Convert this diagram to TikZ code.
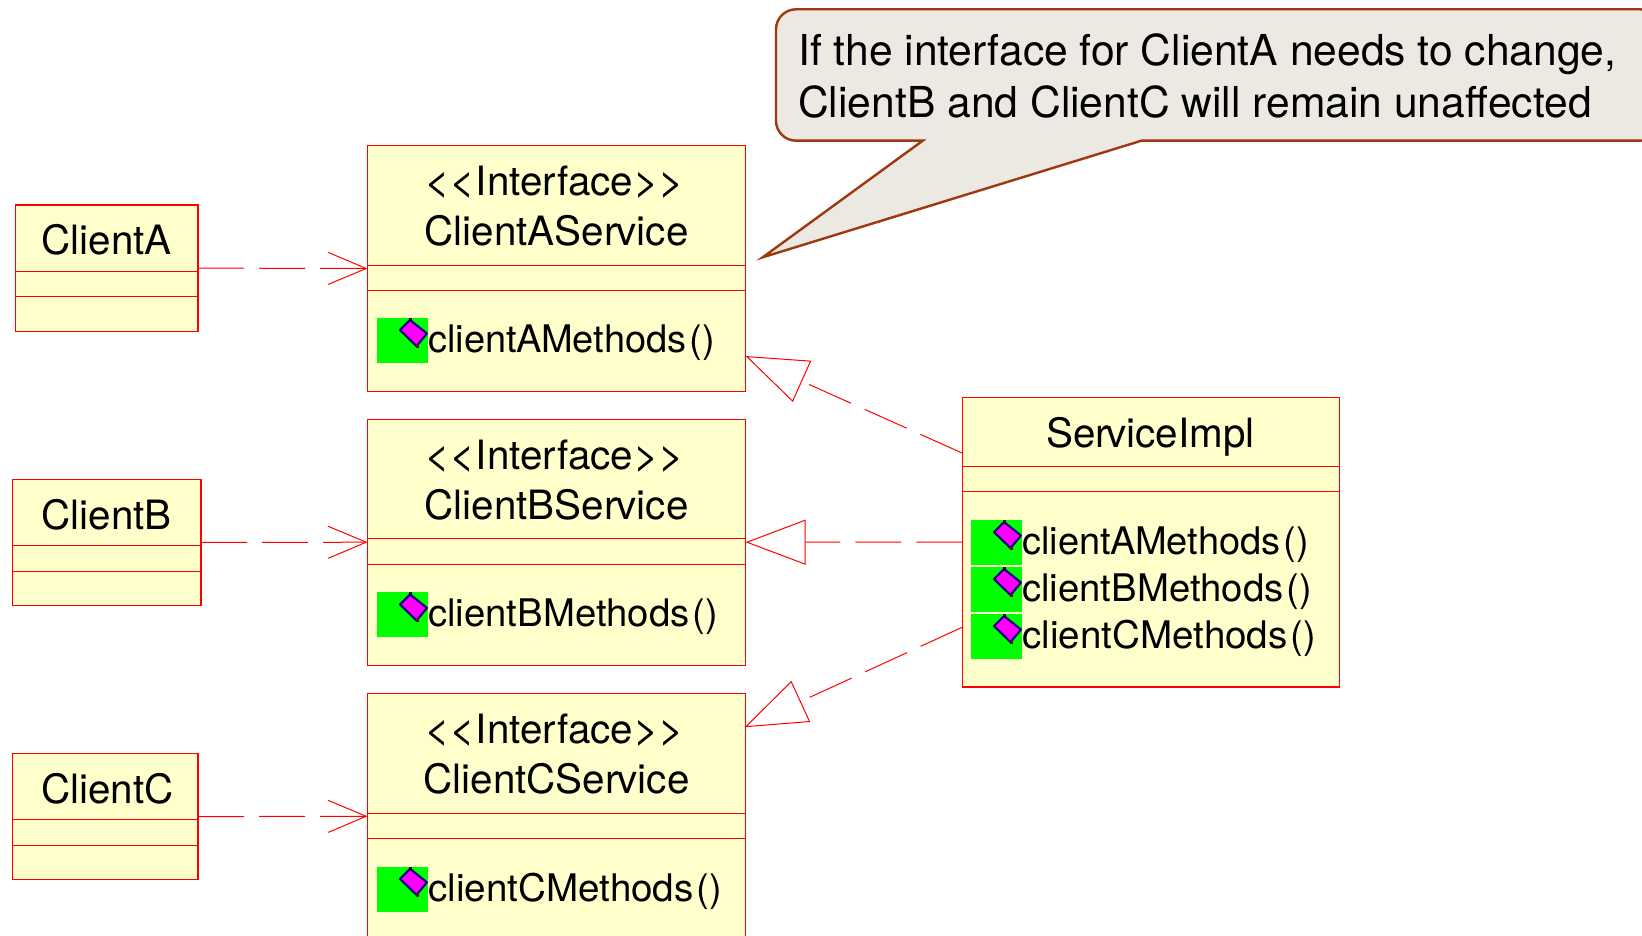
\documentclass[tikz,border=0pt]{standalone}
\usepackage{fontspec}
\setmainfont{TeX Gyre Heros}
\usepackage{tikz}
\usetikzlibrary{arrows.meta,positioning}
\definecolor{classfill}{HTML}{FFFFCC}
\definecolor{notefill}{HTML}{ECE8E2}
\definecolor{noteline}{HTML}{A0380F}
\definecolor{iconblue}{HTML}{1A0A80}
\definecolor{iconpink}{HTML}{FF00FF}
\definecolor{iconred}{HTML}{8A0020}
\definecolor{pureGreen}{HTML}{00FF00}
\def\opn{\scalebox{1.1}[1]{<}\kern-0.5pt\scalebox{1.1}[1]{<}}
\def\cls{\scalebox{1.1}[1]{>}\kern-0.5pt\scalebox{1.1}[1]{>}\kern4pt}
\def\srv{Ser\kern-1pt vice}
\tikzset{%
  tipA/.tip={Straight Barb[length=38pt,width=32pt]},
  tipB/.tip={Triangle[open,length=60pt,width=45pt]},
  tipC/.tip={Triangle[open,length=62pt,width=45pt]},
  classbox/.style={draw=red,fill=classfill,line width=1.3pt,inner sep=0pt,outer sep=0pt},
  classname/.style={font=\fontsize{40.4}{50.3}\selectfont,align=center,inner sep=0pt},
  methodname/.style={font=\fontsize{38}{46}\selectfont,inner sep=0pt,right=0pt of #1,yshift=-2pt},
  greenbox/.style={fill=pureGreen,minimum width=51pt,minimum height=44.7pt,inner sep=0pt,outer sep=0pt},
  depline/.style={red,line width=1pt,dash pattern=on 46pt off 15pt},
  opicon/.pic={
    \draw[iconblue,fill=iconpink,line width=2.2pt,line join=round] (33,2) -- (23,12) -- (39.5,28) -- (50,15.5) -- cycle;
    \fill[black] (32,0) rectangle (35,3);
    \fill[iconred] (39,27) rectangle (42,30);
  }
}
\begin{document}
\begin{tikzpicture}[x=1pt,y=-1pt]
\clip (0,0) rectangle (1642,936);
\path[fill=white] (0,0) rectangle (1642,936);
% clients
\node[classbox,minimum width=182.3pt,minimum height=126.3pt] (clientA) at (106.85,268.1) {};
\node[classbox,minimum width=188.5pt,minimum height=126pt] (clientB) at (106.75,542.5) {};
\node[classbox,minimum width=185.5pt,minimum height=126pt] (clientC) at (105.25,816.6) {};
\draw[red,line width=1pt] ([yshift=-66.3pt]clientA.north west) -- ([yshift=-66.3pt]clientA.north east);
\draw[red,line width=1pt] ([yshift=-91.6pt]clientA.north west) -- ([yshift=-91.6pt]clientA.north east);
\draw[red,line width=1pt] ([yshift=-66.3pt]clientB.north west) -- ([yshift=-66.3pt]clientB.north east);
\draw[red,line width=1pt] ([yshift=-91.6pt]clientB.north west) -- ([yshift=-91.6pt]clientB.north east);
\draw[red,line width=1pt] ([yshift=-66.3pt]clientC.north west) -- ([yshift=-66.3pt]clientC.north east);
\draw[red,line width=1pt] ([yshift=-91.6pt]clientC.north west) -- ([yshift=-91.6pt]clientC.north east);
\node[classname] (clientAname) at (106.8,240) {ClientA};
\node[classname] (clientBname) at (106.8,514.5) {ClientB};
\node[classname] (clientCname) at (107.5,789) {ClientC};
% interfaces
\node[classbox,minimum width=378pt,minimum height=246pt] (serviceA) at (556.5,268.5) {};
\node[classbox,minimum width=378pt,minimum height=246pt] (serviceB) at (556.5,542.2) {};
\node[classbox,minimum width=378pt,minimum height=246pt] (serviceC) at (556.5,816.3) {};
\draw[red,line width=1pt] ([yshift=-119.7pt]serviceA.north west) -- ([yshift=-119.7pt]serviceA.north east);
\draw[red,line width=1pt] ([yshift=-145pt]serviceA.north west) -- ([yshift=-145pt]serviceA.north east);
\draw[red,line width=1pt] ([yshift=-119.7pt]serviceB.north west) -- ([yshift=-119.7pt]serviceB.north east);
\draw[red,line width=1pt] ([yshift=-145pt]serviceB.north west) -- ([yshift=-145pt]serviceB.north east);
\draw[red,line width=1pt] ([yshift=-119.7pt]serviceC.north west) -- ([yshift=-119.7pt]serviceC.north east);
\draw[red,line width=1pt] ([yshift=-145pt]serviceC.north west) -- ([yshift=-145pt]serviceC.north east);
\node[classname] (serviceAname) at (556.5,206) {\opn Interface\cls\\ClientA\srv};
\node[classname] (serviceBname) at (556.5,480) {\opn Interface\cls\\ClientB\srv};
\node[classname] (serviceCname) at (556.5,754) {\opn Interface\cls\\ClientC\srv};
\node[greenbox] (iconA) at (402.5,340.4) {};
\node[greenbox] (iconB) at (402.5,614.8) {};
\node[greenbox] (iconC) at (402.5,889.2) {};
\pic at (iconA.north west) {opicon};
\pic at (iconB.north west) {opicon};
\pic at (iconC.north west) {opicon};
\node[methodname=iconA] (methodA) {clientA\kern-1pt Methods\kern3pt()};
\node[methodname=iconB] (methodB) {\scalebox{1.008}[1]{clientBMethods}\kern3pt()};
\node[methodname=iconC] (methodC) {\scalebox{1.016}[1]{clientCMethods}\kern3pt()};
% implementation
\node[classbox,minimum width=377pt,minimum height=289.7pt] (serviceImpl) at (1150.9,542.15) {};
\draw[red,line width=1pt] ([yshift=-69.4pt]serviceImpl.north west) -- ([yshift=-69.4pt]serviceImpl.north east);
\draw[red,line width=1pt] ([yshift=-94.4pt]serviceImpl.north west) -- ([yshift=-94.4pt]serviceImpl.north east);
\node[classname] (implname) at (1150.4,436.6) {Ser\kern-3pt viceImpl};
\node[greenbox] (implIconA) at (996.5,542.4) {};
\node[greenbox] (implIconB) at (996.5,589.4) {};
\node[greenbox] (implIconC) at (996.5,636.4) {};
\pic at (implIconA.north west) {opicon};
\pic at (implIconB.north west) {opicon};
\pic at (implIconC.north west) {opicon};
\node[methodname=implIconA] (implMethodA) {clientA\kern-1pt Methods\kern3pt()};
\node[methodname=implIconB] (implMethodB) {\scalebox{1.008}[1]{clientBMethods}\kern3pt()};
\node[methodname=implIconC] (implMethodC) {\scalebox{1.016}[1]{clientCMethods}\kern3pt()};
% connectors
\draw[depline,-tipA] (clientA.east) -- (serviceA.west);
\draw[depline,-tipA] (clientB.east) -- (serviceB.west);
\draw[depline,-tipA] (clientC.east) -- (serviceC.west);
\coordinate (implA) at ([yshift=89pt]serviceImpl.west);
\coordinate (implC) at ([yshift=-85pt]serviceImpl.west);
\coordinate (targetA) at ([yshift=-87.5pt]serviceA.east);
\coordinate (targetC) at ([xshift=-1pt,yshift=89pt]serviceC.east);
\draw[depline,-tipC] (implA) -- (targetA);
\draw[depline,-tipB] (serviceImpl.west) -- (serviceB.east);
\draw[depline,-tipC] (implC) -- (targetC);
% note
\draw[noteline,fill=notefill,line width=2.4pt,rounded corners=20pt]
  (776,9.3) -- (1660,9.3) -- (1660,140.7) [sharp corners] -- (1141.5,140.7) -- (762.7,257.3) -- (922.7,140.7) [rounded corners=20pt] -- (776,140.7) -- cycle;
\node[anchor=west,inner sep=0pt,align=left,font=\fontsize{42.6}{52.6}\selectfont] (note) at (798,76) {If the interface for ClientA needs to change,\\ClientB and ClientC will remain unaffected};
\end{tikzpicture}
\end{document}
